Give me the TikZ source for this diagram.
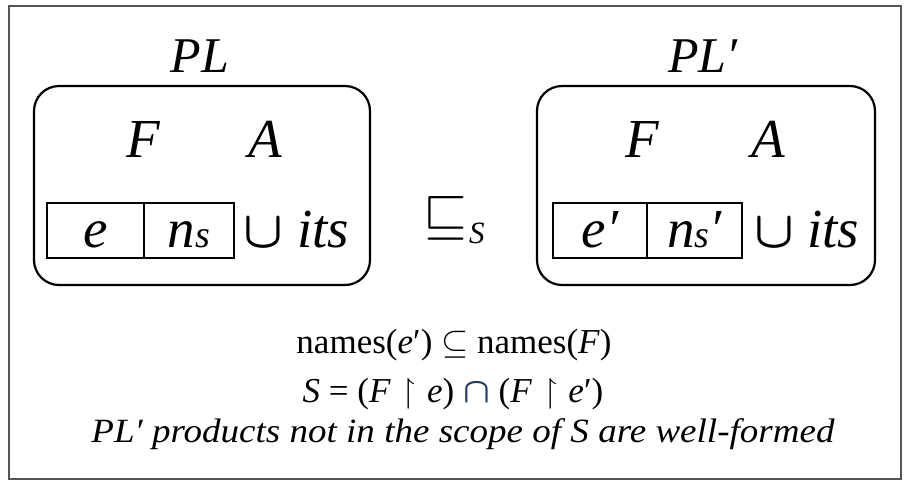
\RequirePackage{fix-cm}
\documentclass[tikz,border=0pt]{standalone}
\usepackage{fontspec}
\usepackage{amssymb}
\usepackage{bm}
\setmainfont{Liberation Serif}
\usetikzlibrary{positioning}
\definecolor{framegray}{HTML}{555555}
\definecolor{capblue}{HTML}{1F3A68}
\newcommand{\restr}{\hspace{11pt}\resizebox{!}{24pt}{$\upharpoonright$}\hspace{11pt}}

\begin{document}
\begin{tikzpicture}[x=1pt,y=-1pt,
		txt/.style={inner sep=0pt,anchor=base},
		plbox/.style={draw,line width=2.2pt,rounded corners=25pt,minimum height=199pt},
		cell/.style={draw,line width=1.8pt,inner sep=0pt,minimum height=55pt,
			text height=33pt,text depth=0pt,font=\fontsize{55}{60}\selectfont\itshape}]
	\useasboundingbox (0,0) rectangle (911,488);

	% outer frame
	\draw[line width=2pt,framegray] (9,6) rectangle (901,479);

	% left product line
	\node[txt,font=\fontsize{50}{55}\selectfont\itshape] (pl) at (200,72) {PL};
	\node[plbox,minimum width=336pt] (lbox) at (202,185.5) {};
	\node[txt,font=\fontsize{55}{60}\selectfont\itshape] (lf) at (143,157) {F};
	\node[txt,font=\fontsize{55}{60}\selectfont\itshape] (la) at (265,157) {A};
	\node[cell,minimum width=97pt] (le) at (95.5,230.5) {e};
	\node[cell,minimum width=90pt] (lns) at (189,230.5) {n{\fontsize{38}{40}\selectfont s}};
	\node[txt,anchor=base west,font=\fontsize{52}{56}\selectfont] (lcup) at (243,247) {$\bm{\cup}$};
	\node[txt,anchor=base west,font=\fontsize{55}{60}\selectfont\itshape] (lits) at (297,247) {its};

	% refinement relation
	\node[inner sep=0pt,anchor=south] (rel) at (445,240) {\resizebox{44pt}{!}{$\sqsubseteq$}};
	\node[txt,anchor=base west,font=\fontsize{31}{34}\selectfont\itshape] (rels) at (469,243) {S};

	% right product line
	\node[txt,font=\fontsize{50}{55}\selectfont\itshape] (plp) at (703,72) {PL′};
	\node[plbox,minimum width=338pt] (rbox) at (706,185.5) {};
	\node[txt,font=\fontsize{55}{60}\selectfont\itshape] (rf) at (642,157) {F};
	\node[txt,font=\fontsize{55}{60}\selectfont\itshape] (ra) at (768,157) {A};
	\node[cell,minimum width=94pt] (re) at (600,230.5) {e′};
	\node[cell,minimum width=95pt] (rns) at (694.5,230.5) {n{\fontsize{38}{40}\selectfont s}′};
	\node[txt,anchor=base west,font=\fontsize{52}{56}\selectfont] (rcup) at (754,247) {$\bm{\cup}$};
	\node[txt,anchor=base west,font=\fontsize{55}{60}\selectfont\itshape] (rits) at (807,247) {its};

	% conditions
	\node[txt,font=\fontsize{35}{38}\selectfont] (names) at (454,353)
		{names(\textit{e}′) $\subseteq$ names(\textit{F})};
	\node[txt,font=\fontsize{35}{38}\selectfont] (scope) at (453,402)
		{\textit{S} = (\textit{F}\restr\textit{e}) \textcolor{capblue}{$\bm{\cap}$} (\textit{F}\restr\textit{e}′)};
	\node[txt,font=\fontsize{34}{38}\selectfont\itshape] (wf) at (463,442)
		{\resizebox{743pt}{\height}{PL′ products not in the scope of S are well-formed}};
\end{tikzpicture}
\end{document}
